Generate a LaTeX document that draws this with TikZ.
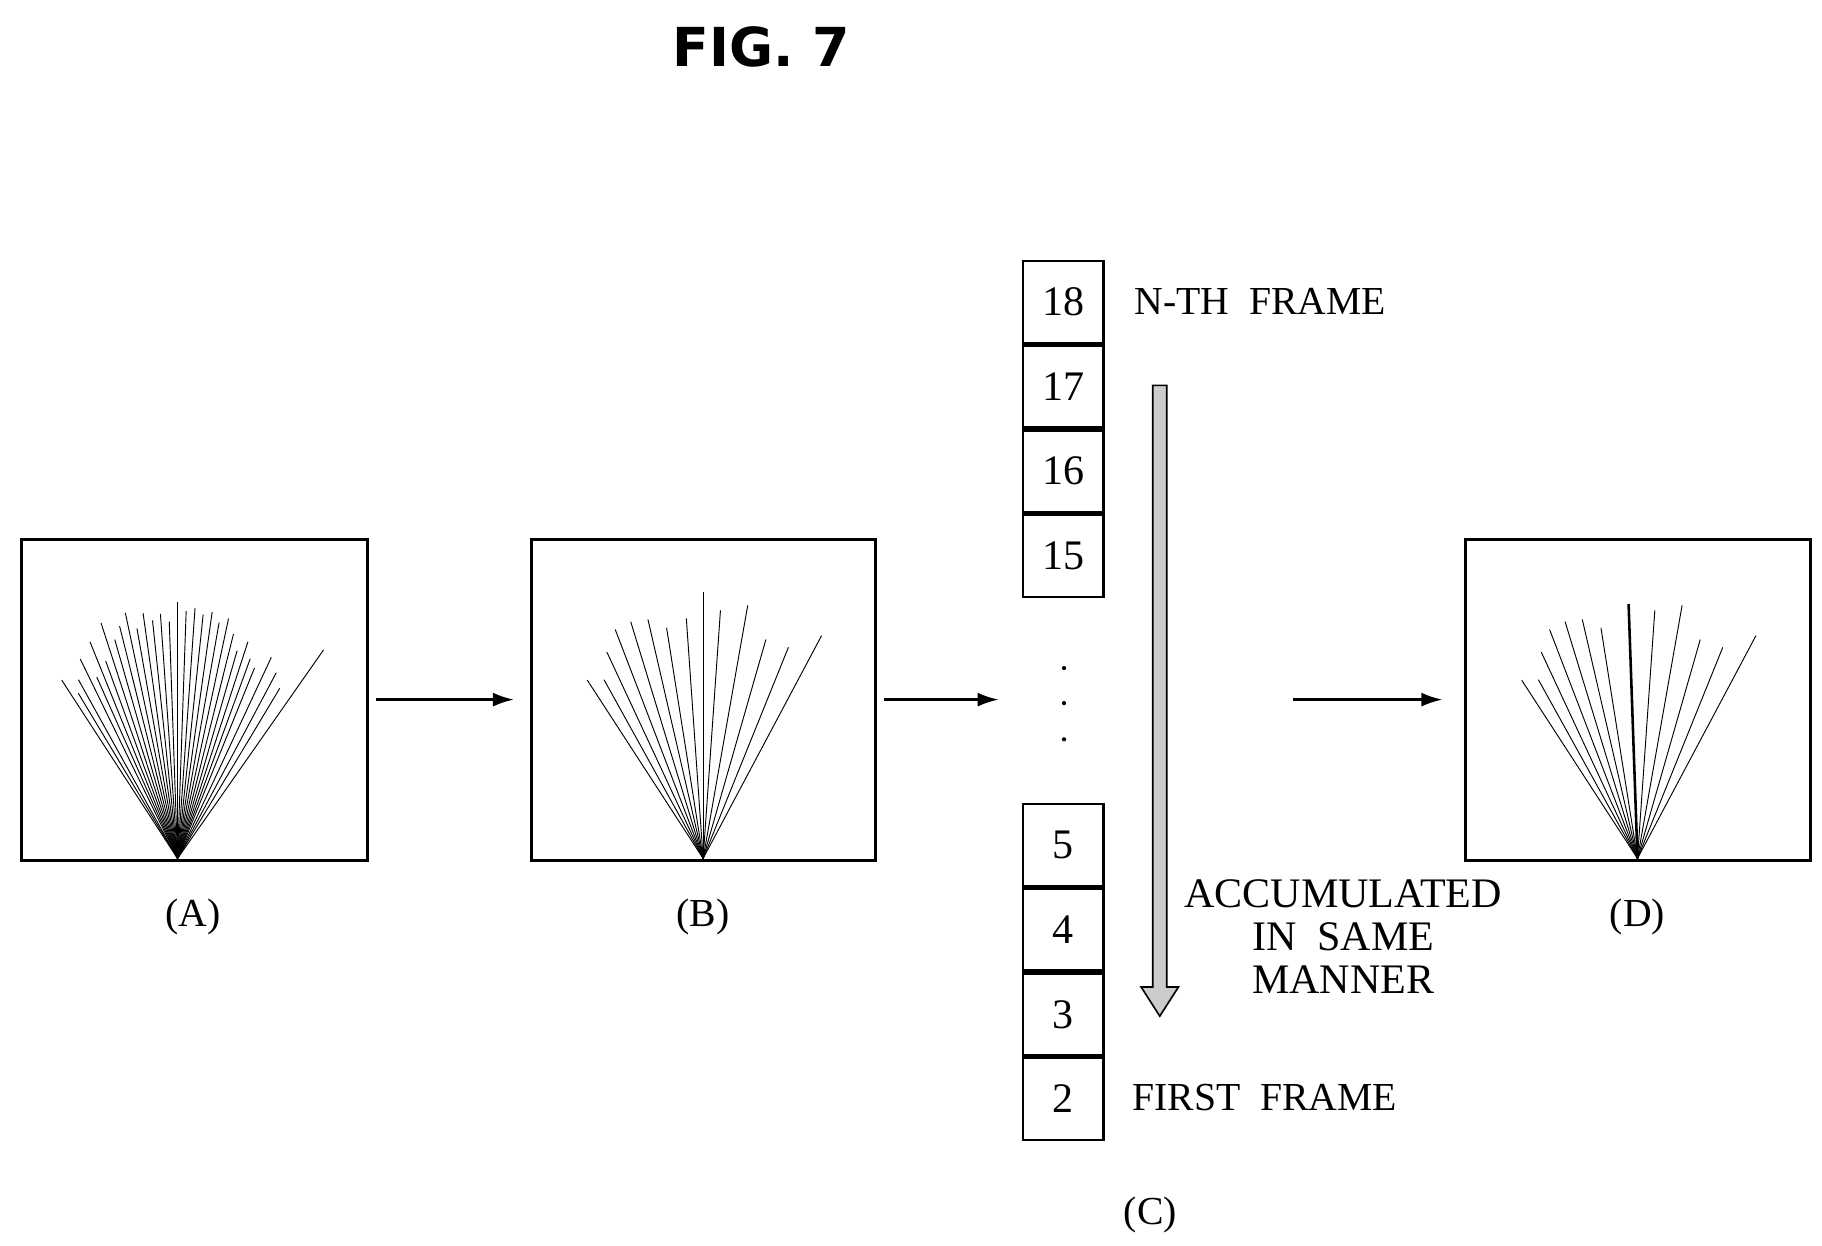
\documentclass[tikz,border=0pt]{standalone}
\usepackage{fontspec}
\setmainfont{Liberation Serif}
\newfontfamily\titlefont{DejaVu Sans}
\usetikzlibrary{arrows.meta}
\begin{document}
\begin{tikzpicture}[x=1pt,y=-1pt,
  frame/.style={draw,line width=2.6pt},
  cell/.style={draw,line width=2.2pt,minimum width=69pt,minimum height=70.3pt,inner sep=0pt,font=\fontsize{36}{36}\selectfont},
  lbl/.style={font=\fontsize{34}{36}\selectfont},
  arr/.style={line width=2pt,-{Latex[length=18pt,width=12pt]}},
  ray/.style={line width=0.8pt}]
\useasboundingbox (0,0) rectangle (1560,1066);
\node[font=\titlefont\bfseries\fontsize{46}{46}\selectfont] (title) at (652,40) {FIG. 7};
% boxes
\draw[frame] (18,462) rectangle (315,737);
\draw[frame] (455,462) rectangle (750,737);
\draw[frame] (1255,462) rectangle (1550,737);
\coordinate (a1s) at (322,599); \coordinate (a1e) at (440,599);
\coordinate (a2s) at (757,599); \coordinate (a2e) at (855,599);
\coordinate (a3s) at (1107,599); \coordinate (a3e) at (1235,599);
\draw[arr] (a1s) -- (a1e);
\draw[arr] (a2s) -- (a2e);
\draw[arr] (a3s) -- (a3e);
\coordinate (apA) at (152,735);
\coordinate (apB) at (602,735);
\coordinate (apD) at (1402,735);
% fan A
\foreach \a/\l in {-33/182,-31/165,-29/175,-26/190,-24/170,-22/200,-20/180,-18/212,-16/195,-14/205,-12/215,-10/200,-8/212,-6/205,-4/210,-2/203,0/220,2/212,4/215,6/210,8/213,10/205,12/210,14/198,16/185,18/195,20/182,22/176,25/190,28/180,31/170,35/218}
  \draw[ray] (apA) -- ++({270+\a}:\l);
% fan B
\foreach \a/\l in {-33/182,-29/175,-25/195,-21/210,-17/212,-13/210,-9/200,-4/206,0/228,4/213,10/220,16/195,22/195,28/216}
  \draw[ray] (apB) -- ++({270+\a}:\l);
% fan D
\foreach \a/\l in {-33/182,-29/175,-25/195,-21/210,-17/212,-13/210,-9/200,4/213,10/220,16/195,22/195,28/216}
  \draw[ray] (apD) -- ++({270+\a}:\l);
\draw[line width=2.2pt] (apD) -- ++(268:218);
\node[lbl] (la) at (165,785) {(A)};
\node[lbl] (lb) at (602,785) {(B)};
\node[lbl] (ld) at (1402,785) {(D)};
% column C
\node[cell] (c18) at (910.5,258.5) {18};
\node[cell,anchor=north] (c17) at (c18.south) {17};
\node[cell,anchor=north] (c16) at (c17.south) {16};
\node[cell,anchor=north] (c15) at (c16.south) {15};
\node[cell] (c5) at (910.5,723.5) {5};
\node[cell,anchor=north] (c4) at (c5.south) {4};
\node[cell,anchor=north] (c3) at (c4.south) {3};
\node[cell,anchor=north] (c2) at (c3.south) {2};
\foreach \y in {572,602,633} \fill (911,\y) circle (1.8);
\node[lbl,anchor=west] (nth) at (968,258) {N-TH\ \ FRAME};
\node[lbl,anchor=west] (first) at (966,940) {FIRST\ \ FRAME};
\node[lbl,align=center,font=\fontsize{36}{37}\selectfont] (acc) at (1150,802) {ACCUMULATED\\IN\ \ SAME\\MANNER};
\node[lbl] (lc) at (985,1040) {(C)};
% hollow arrow
\draw[line width=1.4pt,fill=gray!40] (987,330) -- (999,330) -- (999,845) -- (1009,845) -- (993,870) -- (977,845) -- (987,845) -- cycle;
\end{tikzpicture}
\end{document}
